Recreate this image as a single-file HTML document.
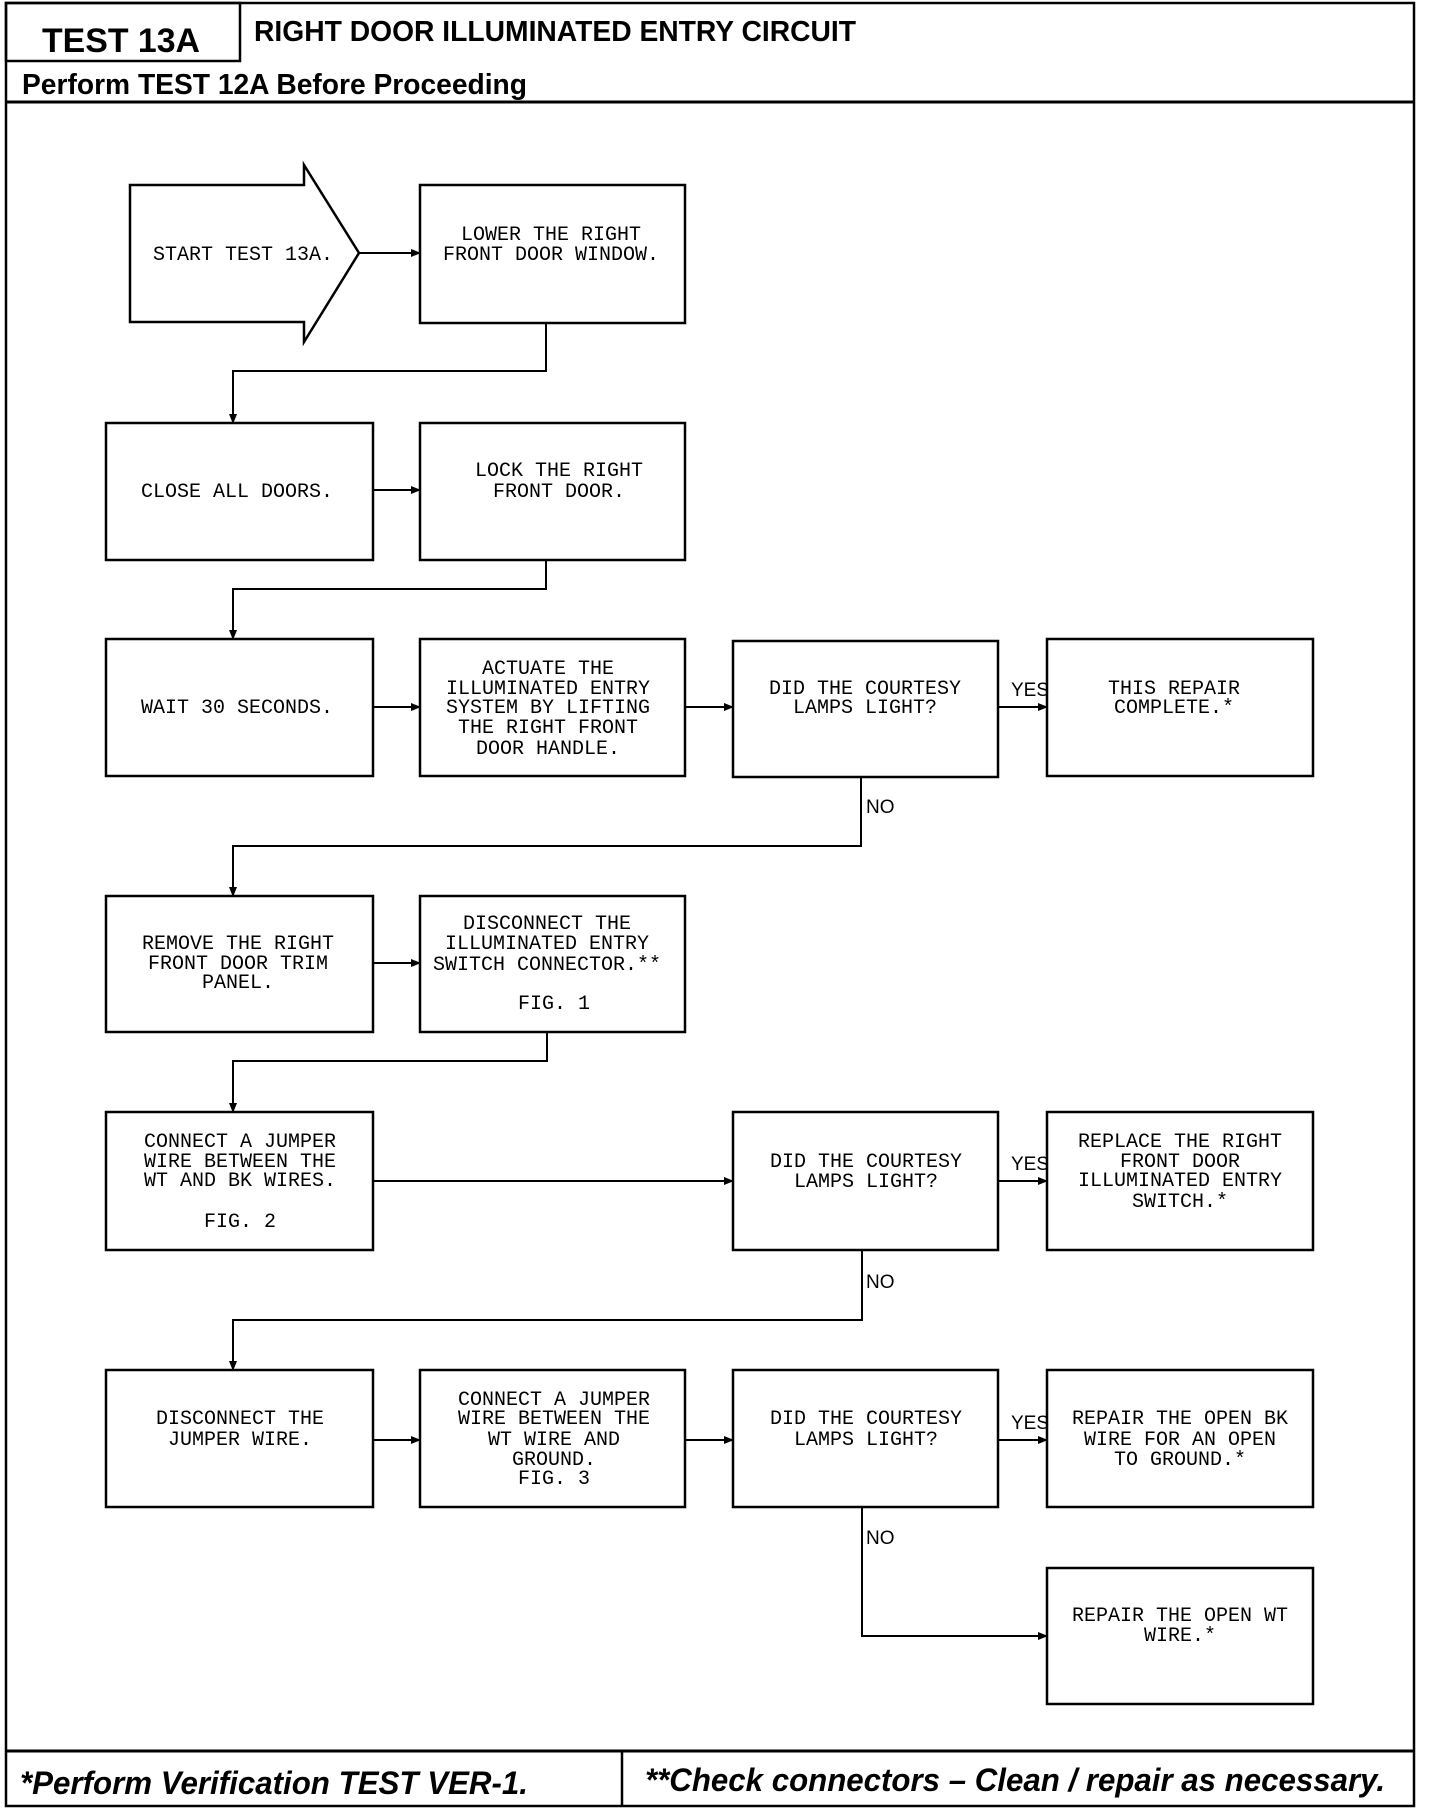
<!DOCTYPE html>
<html><head><meta charset="utf-8"><style>
html,body{margin:0;padding:0;background:#fff;}
svg{display:block;}
.m{font-family:"Liberation Mono",monospace;font-size:20px;fill:#000;text-anchor:middle;}
.l{font-family:"Liberation Sans",sans-serif;font-size:19px;fill:#000;}
</style></head><body>
<svg width="1440" height="1814" viewBox="0 0 1440 1814" xmlns="http://www.w3.org/2000/svg">
<defs><marker id="a" markerWidth="10" markerHeight="8" refX="9" refY="4" orient="auto" markerUnits="userSpaceOnUse"><path d="M0,0 L10,4 L0,8 z" fill="#000"/></marker></defs>
<g fill="none" stroke="#000" stroke-width="2.5">
<rect x="6" y="3" width="1408" height="1803"/>
<rect x="6" y="3" width="234" height="58"/>
<line x1="6" y1="102" x2="1414" y2="102" stroke-width="3"/>
<line x1="6" y1="1751" x2="1414" y2="1751" stroke-width="3"/>
<line x1="622" y1="1751" x2="622" y2="1806"/>
<path d="M130,185 H304 V165 L359,253 L304,342 V322 H130 Z"/>
<rect x="420" y="185" width="265" height="138"/>
<rect x="106" y="423" width="267" height="137"/>
<rect x="420" y="423" width="265" height="137"/>
<rect x="106" y="639" width="267" height="137"/>
<rect x="420" y="639" width="265" height="137"/>
<rect x="733" y="641" width="265" height="136"/>
<rect x="1047" y="639" width="266" height="137"/>
<rect x="106" y="896" width="267" height="136"/>
<rect x="420" y="896" width="265" height="136"/>
<rect x="106" y="1112" width="267" height="138"/>
<rect x="733" y="1112" width="265" height="138"/>
<rect x="1047" y="1112" width="266" height="138"/>
<rect x="106" y="1370" width="267" height="137"/>
<rect x="420" y="1370" width="265" height="137"/>
<rect x="733" y="1370" width="265" height="137"/>
<rect x="1047" y="1370" width="266" height="137"/>
<rect x="1047" y="1568" width="266" height="136"/>
</g>
<g fill="none" stroke="#000" stroke-width="2" marker-end="url(#a)">
<line x1="359" y1="253" x2="420" y2="253"/>
<polyline points="546,323 546,371 233,371 233,423"/>
<line x1="373" y1="490" x2="420" y2="490"/>
<polyline points="546,560 546,589 233,589 233,639"/>
<line x1="373" y1="707" x2="420" y2="707"/>
<line x1="685" y1="707" x2="733" y2="707"/>
<line x1="998" y1="707" x2="1047" y2="707"/>
<polyline points="861,777 861,846 233,846 233,896"/>
<line x1="373" y1="963" x2="420" y2="963"/>
<polyline points="547,1032 547,1061 233,1061 233,1112"/>
<line x1="373" y1="1181" x2="733" y2="1181"/>
<line x1="998" y1="1181" x2="1047" y2="1181"/>
<polyline points="862,1250 862,1320 233,1320 233,1370"/>
<line x1="373" y1="1440" x2="420" y2="1440"/>
<line x1="685" y1="1440" x2="733" y2="1440"/>
<line x1="998" y1="1440" x2="1047" y2="1440"/>
<polyline points="862,1507 862,1636 1047,1636"/>
</g>
<text x="42" y="52" font-family="Liberation Sans,sans-serif" font-weight="bold" font-size="34" textLength="158" lengthAdjust="spacingAndGlyphs">TEST 13A</text>
<text x="254" y="41" font-family="Liberation Sans,sans-serif" font-weight="bold" font-size="29" textLength="602" lengthAdjust="spacingAndGlyphs">RIGHT DOOR ILLUMINATED ENTRY CIRCUIT</text>
<text x="22" y="94" font-family="Liberation Sans,sans-serif" font-weight="bold" font-size="29" textLength="505" lengthAdjust="spacingAndGlyphs">Perform TEST 12A Before Proceeding</text>
<text x="20" y="1794" font-family="Liberation Sans,sans-serif" font-weight="bold" font-style="italic" font-size="32" textLength="508" lengthAdjust="spacingAndGlyphs">*Perform Verification TEST VER-1.</text>
<text x="645" y="1791" font-family="Liberation Sans,sans-serif" font-weight="bold" font-style="italic" font-size="32" textLength="740" lengthAdjust="spacingAndGlyphs">**Check connectors – Clean / repair as necessary.</text>
<g class="m">
<text x="243" y="260">START TEST 13A.</text>
<text x="551" y="240">LOWER THE RIGHT</text><text x="551" y="260">FRONT DOOR WINDOW.</text>
<text x="237" y="497">CLOSE ALL DOORS.</text>
<text x="559" y="476">LOCK THE RIGHT</text><text x="559" y="497">FRONT DOOR.</text>
<text x="237" y="713">WAIT 30 SECONDS.</text>
<text x="548" y="674">ACTUATE THE</text><text x="548" y="694">ILLUMINATED ENTRY</text><text x="548" y="713">SYSTEM BY LIFTING</text><text x="548" y="733">THE RIGHT FRONT</text><text x="548" y="754">DOOR HANDLE.</text>
<text x="865" y="694">DID THE COURTESY</text><text x="865" y="713">LAMPS LIGHT?</text>
<text x="1174" y="694">THIS REPAIR</text><text x="1174" y="713">COMPLETE.*</text>
<text x="238" y="949">REMOVE THE RIGHT</text><text x="238" y="969">FRONT DOOR TRIM</text><text x="238" y="988">PANEL.</text>
<text x="547" y="929">DISCONNECT THE</text><text x="547" y="949">ILLUMINATED ENTRY</text><text x="547" y="970">SWITCH CONNECTOR.**</text><text x="554" y="1009">FIG. 1</text>
<text x="240" y="1147">CONNECT A JUMPER</text><text x="240" y="1167">WIRE BETWEEN THE</text><text x="240" y="1186">WT AND BK WIRES.</text><text x="240" y="1227">FIG. 2</text>
<text x="866" y="1167">DID THE COURTESY</text><text x="866" y="1187">LAMPS LIGHT?</text>
<text x="1180" y="1147">REPLACE THE RIGHT</text><text x="1180" y="1167">FRONT DOOR</text><text x="1180" y="1186">ILLUMINATED ENTRY</text><text x="1180" y="1207">SWITCH.*</text>
<text x="240" y="1424">DISCONNECT THE</text><text x="240" y="1445">JUMPER WIRE.</text>
<text x="554" y="1405">CONNECT A JUMPER</text><text x="554" y="1424">WIRE BETWEEN THE</text><text x="554" y="1445">WT WIRE AND</text><text x="554" y="1465">GROUND.</text><text x="554" y="1484">FIG. 3</text>
<text x="866" y="1424">DID THE COURTESY</text><text x="866" y="1445">LAMPS LIGHT?</text>
<text x="1180" y="1424">REPAIR THE OPEN BK</text><text x="1180" y="1445">WIRE FOR AN OPEN</text><text x="1180" y="1465">TO GROUND.*</text>
<text x="1180" y="1621">REPAIR THE OPEN WT</text><text x="1180" y="1641">WIRE.*</text>
</g>
<g class="l">
<text x="1011" y="696">YES</text>
<text x="1011" y="1170">YES</text>
<text x="1011" y="1429">YES</text>
<text x="866" y="813">NO</text>
<text x="866" y="1288">NO</text>
<text x="866" y="1544">NO</text>
</g>
</svg>
</body></html>
